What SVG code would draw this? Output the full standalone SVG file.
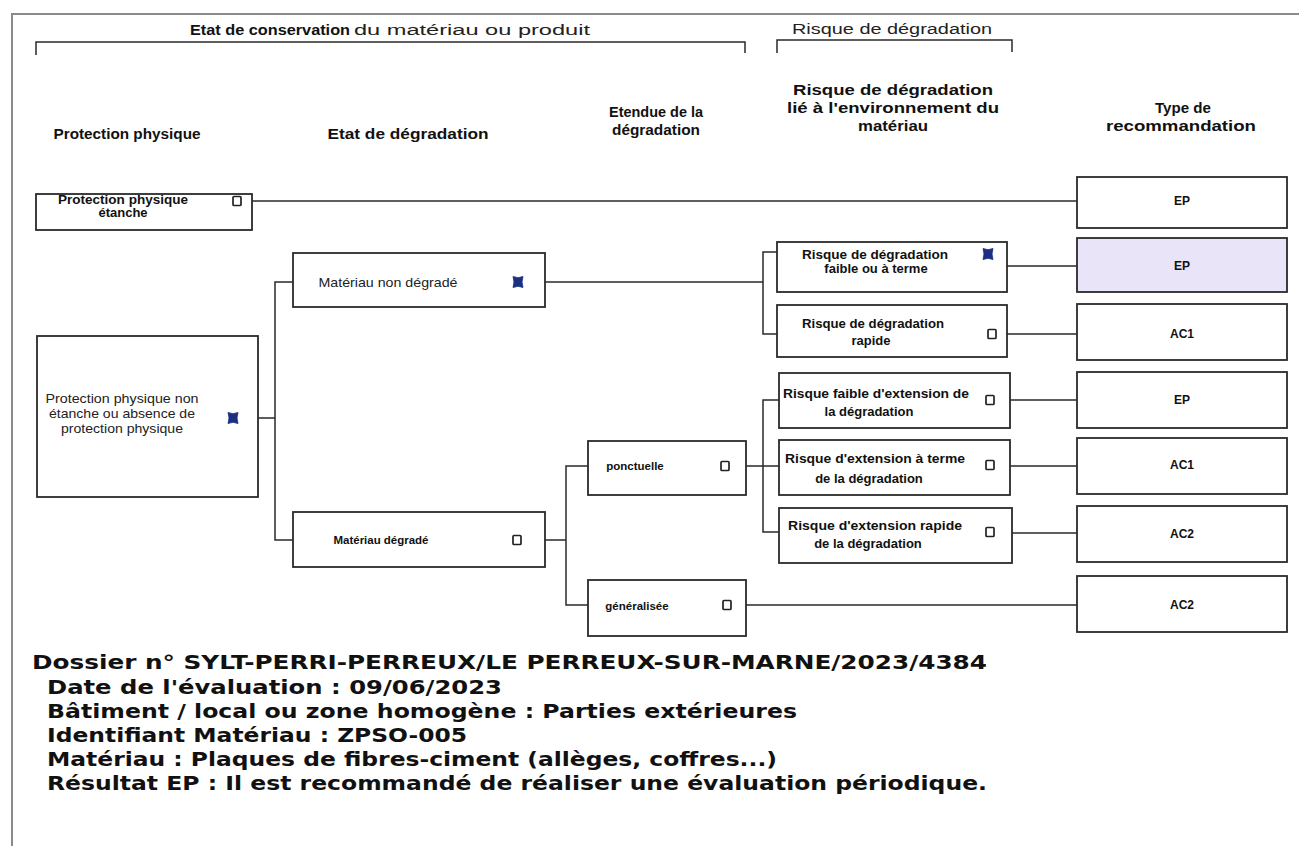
<svg xmlns="http://www.w3.org/2000/svg" width="1299" height="846" viewBox="0 0 1299 846">
<defs>
<style>
.box{fill:#fff;stroke:#2a2a2a;stroke-width:1.8}
.hl{fill:#e9e4f8;stroke:#2a2a2a;stroke-width:1.8}
.ln{fill:none;stroke:#2a2a2a;stroke-width:1.5}
.fr{fill:none;stroke:#8a8a8a;stroke-width:2}
.h{font-family:"Liberation Sans",Arial,sans-serif;font-weight:bold;font-size:14.5px;fill:#111;text-anchor:middle}
.t{font-family:"Liberation Sans",Arial,sans-serif;font-size:14px;fill:#222}
.tb{font-family:"Liberation Sans",Arial,sans-serif;font-size:14px;font-weight:bold;fill:#111}
.n{font-family:"Liberation Sans",Arial,sans-serif;font-weight:bold;font-size:11.5px;fill:#111;text-anchor:middle}
.nl{font-family:"Liberation Sans",Arial,sans-serif;font-weight:bold;font-size:13px;fill:#111;text-anchor:middle}
.nr{font-family:"Liberation Sans",Arial,sans-serif;font-size:13.5px;fill:#222;text-anchor:middle}
.r{font-family:"Liberation Sans",Arial,sans-serif;font-weight:bold;font-size:12px;fill:#111;text-anchor:middle}
.b{font-family:"DejaVu Sans",Verdana,sans-serif;font-weight:bold;font-size:19px;fill:#111}
.cb{fill:#fff;stroke:#222;stroke-width:1.7}
.ck{fill:#1c2f80;stroke:#1c2f80;stroke-width:0.8}
</style>
<g id="uncheck"><rect class="cb" x="-4" y="-4.5" width="8" height="9" rx="1"/></g>
<g id="check"><path class="ck" d="M-5,-5.5 L0,-4.3 L5,-5.5 L4,0 L5,5.5 L0,4.3 L-5,5.5 L-4,0 Z"/></g>
</defs>

<g id="frame">
<path class="fr" d="M12,846 V14 H1299"/>
<path class="ln" d="M36,55 V42 H745 V53"/>
<path class="ln" d="M777,53 V40 H1012 V52"/>
<text class="tb" x="190" y="35" textLength="160" lengthAdjust="spacingAndGlyphs">Etat de conservation</text>
<text class="t" x="354" y="35" textLength="236" lengthAdjust="spacingAndGlyphs" fill="#444">du matériau ou produit</text>
<text class="t" x="792" y="34" textLength="200" lengthAdjust="spacingAndGlyphs" fill="#444">Risque de dégradation</text>
</g>

<g id="headers">
<text class="h" x="127" y="139" textLength="147" lengthAdjust="spacingAndGlyphs">Protection physique</text>
<text class="h" x="408" y="139" textLength="161" lengthAdjust="spacingAndGlyphs">Etat de dégradation</text>
<text class="h" x="656" y="117" textLength="94" lengthAdjust="spacingAndGlyphs">Etendue de la</text>
<text class="h" x="656" y="135" textLength="88" lengthAdjust="spacingAndGlyphs">dégradation</text>
<text class="h" x="893" y="95" textLength="200" lengthAdjust="spacingAndGlyphs">Risque de dégradation</text>
<text class="h" x="893" y="113" textLength="212" lengthAdjust="spacingAndGlyphs">lié à l'environnement du</text>
<text class="h" x="893" y="131" textLength="70" lengthAdjust="spacingAndGlyphs">matériau</text>
<text class="h" x="1183" y="113" textLength="56" lengthAdjust="spacingAndGlyphs">Type de</text>
<text class="h" x="1181" y="131" textLength="150" lengthAdjust="spacingAndGlyphs">recommandation</text>
</g>

<g id="connectors">
<path class="ln" d="M252,201 H1077"/>
<path class="ln" d="M258,418 H275 M293,282 H275 V540 H293"/>
<path class="ln" d="M545,282 H763 M777,252 H763 V334 H777"/>
<path class="ln" d="M545,540 H566 M588,466 H566 V605 H588"/>
<path class="ln" d="M746,466 H779 M779,400 H763 V532 H779"/>
<path class="ln" d="M1007,266 H1077 M1007,334 H1077 M1010,400 H1077 M1010,466 H1077 M1012,533 H1077 M746,605 H1077"/>
</g>

<g id="n-pp-etanche">
<rect class="box" x="36" y="194" width="216" height="36"/>
<text class="nl" x="123" y="204" textLength="130" lengthAdjust="spacingAndGlyphs">Protection physique</text>
<text class="nl" x="123" y="217">étanche</text>
<use href="#uncheck" x="237" y="201"/>
</g>
<g id="n-pp-non-etanche">
<rect class="box" x="37" y="336" width="221" height="161"/>
<text class="nr" x="122" y="403" textLength="153" lengthAdjust="spacingAndGlyphs">Protection physique non</text>
<text class="nr" x="122" y="418" textLength="146" lengthAdjust="spacingAndGlyphs">étanche ou absence de</text>
<text class="nr" x="122" y="433" textLength="122" lengthAdjust="spacingAndGlyphs">protection physique</text>
<use href="#check" x="233" y="418"/>
</g>
<g id="n-non-degrade">
<rect class="box" x="293" y="253" width="252" height="54"/>
<text class="nr" x="388" y="287" textLength="139" lengthAdjust="spacingAndGlyphs">Matériau non dégradé</text>
<use href="#check" x="518" y="282"/>
</g>
<g id="n-degrade">
<rect class="box" x="293" y="512" width="252" height="55"/>
<text class="n" x="381" y="544" textLength="95" lengthAdjust="spacingAndGlyphs">Matériau dégradé</text>
<use href="#uncheck" x="517" y="540"/>
</g>
<g id="n-ponctuelle">
<rect class="box" x="588" y="441" width="158" height="54"/>
<text class="n" x="635" y="470">ponctuelle</text>
<use href="#uncheck" x="725" y="466"/>
</g>
<g id="n-generalisee">
<rect class="box" x="588" y="580" width="158" height="56"/>
<text class="n" x="637" y="610">généralisée</text>
<use href="#uncheck" x="727" y="605"/>
</g>
<g id="n-risque-faible-terme">
<rect class="box" x="777" y="242" width="230" height="50"/>
<text class="nl" x="875" y="259" textLength="146" lengthAdjust="spacingAndGlyphs">Risque de dégradation</text>
<text class="nl" x="876" y="273">faible ou à terme</text>
<use href="#check" x="988" y="254"/>
</g>
<g id="n-risque-rapide">
<rect class="box" x="777" y="305" width="230" height="52"/>
<text class="nl" x="873" y="328" textLength="142" lengthAdjust="spacingAndGlyphs">Risque de dégradation</text>
<text class="nl" x="871" y="345">rapide</text>
<use href="#uncheck" x="992" y="334"/>
</g>
<g id="n-ext-faible">
<rect class="box" x="779" y="373" width="231" height="55"/>
<text class="nl" x="876" y="398" textLength="186" lengthAdjust="spacingAndGlyphs">Risque faible d'extension de</text>
<text class="nl" x="869" y="416">la dégradation</text>
<use href="#uncheck" x="990" y="400"/>
</g>
<g id="n-ext-terme">
<rect class="box" x="779" y="440" width="231" height="55"/>
<text class="nl" x="875" y="463" textLength="180" lengthAdjust="spacingAndGlyphs">Risque d'extension à terme</text>
<text class="nl" x="869" y="483">de la dégradation</text>
<use href="#uncheck" x="990" y="465"/>
</g>
<g id="n-ext-rapide">
<rect class="box" x="779" y="508" width="233" height="55"/>
<text class="nl" x="875" y="530" textLength="174" lengthAdjust="spacingAndGlyphs">Risque d'extension rapide</text>
<text class="nl" x="868" y="548">de la dégradation</text>
<use href="#uncheck" x="990" y="532"/>
</g>

<g id="r1"><rect class="box" x="1077" y="177" width="210" height="51"/><text class="r" x="1182" y="205">EP</text></g>
<g id="r2"><rect class="hl" x="1077" y="238" width="210" height="54"/><text class="r" x="1182" y="270" fill="#4a4a7a" font-weight="normal">EP</text></g>
<g id="r3"><rect class="box" x="1077" y="304" width="210" height="56"/><text class="r" x="1182" y="338">AC1</text></g>
<g id="r4"><rect class="box" x="1077" y="372" width="210" height="56"/><text class="r" x="1182" y="404">EP</text></g>
<g id="r5"><rect class="box" x="1077" y="438" width="210" height="56"/><text class="r" x="1182" y="469">AC1</text></g>
<g id="r6"><rect class="box" x="1077" y="506" width="210" height="56"/><text class="r" x="1182" y="538">AC2</text></g>
<g id="r7"><rect class="box" x="1077" y="576" width="210" height="56"/><text class="r" x="1182" y="609">AC2</text></g>

<g id="info">
<text class="b" x="32" y="669" textLength="955" lengthAdjust="spacingAndGlyphs">Dossier n° SYLT-PERRI-PERREUX/LE PERREUX-SUR-MARNE/2023/4384</text>
<text class="b" x="47" y="694" textLength="455" lengthAdjust="spacingAndGlyphs">Date de l'évaluation : 09/06/2023</text>
<text class="b" x="47" y="718" textLength="750" lengthAdjust="spacingAndGlyphs">Bâtiment / local ou zone homogène : Parties extérieures</text>
<text class="b" x="47" y="742" textLength="420" lengthAdjust="spacingAndGlyphs">Identifiant Matériau : ZPSO-005</text>
<text class="b" x="47" y="766" textLength="730" lengthAdjust="spacingAndGlyphs">Matériau : Plaques de fibres-ciment (allèges, coffres...)</text>
<text class="b" x="47" y="790" textLength="940" lengthAdjust="spacingAndGlyphs">Résultat EP : Il est recommandé de réaliser une évaluation périodique.</text>
</g>
</svg>
